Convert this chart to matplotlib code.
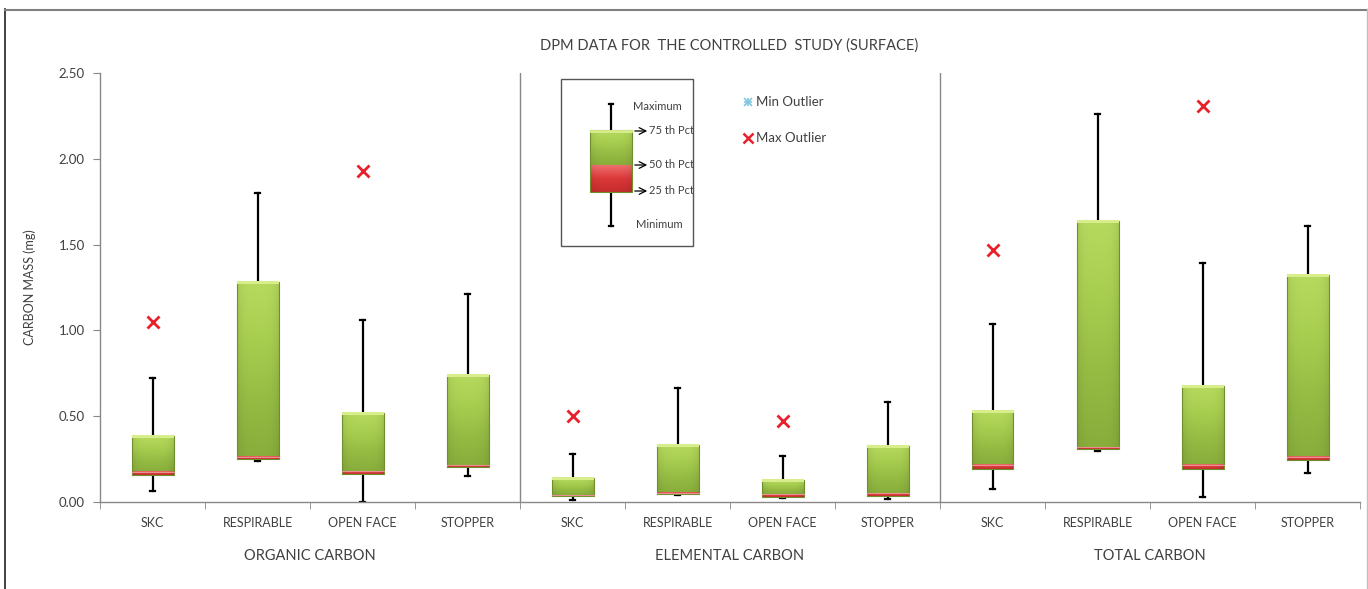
import numpy as np
import matplotlib
matplotlib.use("Agg")
import matplotlib.pyplot as plt
from matplotlib.colors import LinearSegmentedColormap
from matplotlib.transforms import blended_transform_factory

plt.rcParams['font.family'] = ['Lato', 'DejaVu Sans']

# ---- data -------------------------------------------------------------
categories = ["SKC", "RESPIRABLE", "OPEN FACE", "STOPPER"]
groups = ["ORGANIC CARBON", "ELEMENTAL CARBON", "TOTAL CARBON"]

minimum = [0.065, 0.24, 0.00, 0.15,
           0.012, 0.042, 0.022, 0.020,
           0.078, 0.30, 0.03, 0.17]
q1 = [0.157, 0.253, 0.165, 0.205,
      0.037, 0.045, 0.031, 0.037,
      0.19, 0.31, 0.19, 0.245]
median = [0.177, 0.265, 0.18, 0.213,
          0.040, 0.054, 0.045, 0.050,
          0.215, 0.32, 0.215, 0.265]
q3 = [0.385, 1.28, 0.52, 0.742,
      0.138, 0.334, 0.126, 0.325,
      0.53, 1.64, 0.676, 1.323]
maximum = [0.72, 1.80, 1.06, 1.21,
           0.28, 0.664, 0.27, 0.58,
           1.035, 2.26, 1.393, 1.61]
max_outlier = [1.05, None, 1.93, None,
               0.50, None, 0.47, None,
               1.467, None, 2.31, None]

yticks = [0.0, 0.5, 1.0, 1.5, 2.0, 2.5]

TXT = "#404040"
W, H = 1368, 589
fig = plt.figure(figsize=(W / 100, H / 100), dpi=100)
fig.patch.set_facecolor("white")

ax = fig.add_axes([100 / W, 1 - 502 / H, 1260 / W, 429 / H])

green_cmap = LinearSegmentedColormap.from_list(
    "g", ["#b6da5e", "#a8ce50", "#96bc44", "#88ad3b"])
red_cmap = LinearSegmentedColormap.from_list(
    "r", ["#f07070", "#dc3838", "#c42c2c"])

grad = np.linspace(0, 1, 256).reshape(-1, 1)
# horizontal shading: slightly darker at the sides
side = 1 - 0.08 * (np.abs(np.linspace(-1, 1, 64)) ** 4)
green_img = green_cmap(grad)[:, :, :3] * side[None, :, None]
red_img = red_cmap(grad)[:, :, :3] * side[None, :, None]

bw = 0.4
n = len(q1)
pos = np.arange(n)

for i in range(n):
    x0, x1 = pos[i] - bw / 2, pos[i] + bw / 2
    # whiskers
    ax.plot([pos[i], pos[i]], [q3[i], maximum[i]], color="black", lw=1.6, zorder=2)
    ax.plot([pos[i], pos[i]], [minimum[i], q1[i]], color="black", lw=1.6, zorder=2)
    for v in (maximum[i], minimum[i]):
        ax.plot([pos[i] - 0.025, pos[i] + 0.025], [v, v], color="black", lw=1.6, zorder=2)
    # upper box (median -> 75th), light at the top
    ax.imshow(green_img, extent=[x0, x1, median[i], q3[i]], aspect="auto",
              origin="upper", zorder=3, interpolation="bilinear")
    # lower box (25th -> median)
    ax.imshow(red_img, extent=[x0, x1, q1[i], median[i]], aspect="auto",
              origin="upper", zorder=3, interpolation="bilinear")
    ax.plot([x0, x1, x1, x0, x0], [q1[i], q1[i], q3[i], q3[i], q1[i]],
            color="#6f8f2e", lw=0.8, zorder=4)
    ax.plot([x0 + 0.01, x1 - 0.01], [q3[i], q3[i]], color="#d8ee8c", lw=2.2, zorder=4)
    ax.plot([x0, x1], [median[i], median[i]], color="#e89090", lw=0.8, zorder=4)
    if max_outlier[i] is not None:
        ax.plot(pos[i], max_outlier[i], marker="x", color="#e8202a",
                markersize=9, mew=2, zorder=5)

ax.set_xlim(-0.5, n - 0.5)
ax.set_ylim(0, 2.5)
ax.set_yticks(yticks)
ax.set_yticklabels([f"{v:.2f}" for v in yticks], fontsize=9.5, color=TXT)
ax.set_xticks(pos)
ax.set_xticklabels(categories * len(groups), fontsize=9, color=TXT)
ax.set_xticks(np.arange(-0.5, n, 1), minor=True)
ax.tick_params(axis="x", which="major", length=0, pad=11)
ax.tick_params(axis="x", which="minor", length=5, color="#888888", direction="out")
ax.tick_params(axis="y", length=5, color="#888888", pad=6)
for s in ("top", "right"):
    ax.spines[s].set_visible(False)
for s in ("left", "bottom"):
    ax.spines[s].set_color("#888888")
    ax.spines[s].set_linewidth(1)

for b in (3.5, 7.5):
    ax.axvline(b, color="#888888", lw=1, zorder=1)

tr = blended_transform_factory(ax.transData, ax.transAxes)
for g, name in enumerate(groups):
    ax.text(g * 4 + 1.5, -54 / 429, name, transform=tr, ha="center",
            va="center", fontsize=10.5, color=TXT)

ax.set_ylabel("CARBON MASS (mg)", fontsize=9, color=TXT, labelpad=16)

fig.text(729 / W, 1 - 46 / H, "DPM DATA FOR  THE CONTROLLED  STUDY (SURFACE)",
         ha="center", va="center", fontsize=10.5, color=TXT)

# ---- overlay in pixel units: frame and key --------------------------
ov = fig.add_axes([0, 0, 1, 1], zorder=10)
ov.axis("off")
ov.patch.set_alpha(0)

ov.plot([4.5, 4.5], [9, H], color="#222222", lw=1.2)
ov.plot([4.5, 1366.5], [9.5, 9.5], color="#808080", lw=1.5)
ov.plot([1366.5, 1366.5], [9, H], color="#c0c0c0", lw=1)

# key box
ov.add_patch(plt.Rectangle((561, 79), 132, 167, fill=False, ec="#555555", lw=1))
ov.plot([611, 611], [104, 130], color="black", lw=1.6)
ov.plot([611, 611], [192, 226], color="black", lw=1.6)
ov.plot([609, 613], [104, 104], color="black", lw=1.6)
ov.plot([609, 613], [226, 226], color="black", lw=1.6)
ov.imshow(green_img, extent=[590, 632, 165, 130], aspect="auto", zorder=3)
ov.imshow(red_img, extent=[590, 632, 192, 165], aspect="auto", zorder=3)
ov.add_patch(plt.Rectangle((590, 130), 42, 62, fill=False, ec="#6f8f2e", lw=0.8, zorder=4))
ov.plot([591, 631], [131, 131], color="#d8ee8c", lw=2, zorder=4)
ov.set_xlim(0, W)
ov.set_ylim(H, 0)

ov.text(633, 106, "Maximum", fontsize=8, color=TXT, va="center")
ov.text(636, 225, "Minimum", fontsize=8, color=TXT, va="center")
for yy, lab in ((131, "75 th Pct"), (165, "50 th Pct"), (191, "25 th Pct")):
    ov.annotate("", xy=(650, yy), xytext=(632, yy),
                arrowprops=dict(arrowstyle="->", color="black", lw=0.9,
                                mutation_scale=12))
    ov.text(649, yy, lab, fontsize=8, color=TXT, va="center")

ov.plot(748, 102, marker="x", color="#7fc8e0", markersize=6, mew=1.2)
ov.plot(748, 102, marker="+", color="#7fc8e0", markersize=6, mew=1.2)
ov.text(756, 102, "Min Outlier", fontsize=9.5, color=TXT, va="center")
ov.plot(748, 138, marker="x", color="#e8202a", markersize=7, mew=1.8)
ov.text(756, 138, "Max Outlier", fontsize=9.5, color=TXT, va="center")

fig.savefig("out.png", dpi=100, facecolor="white")
